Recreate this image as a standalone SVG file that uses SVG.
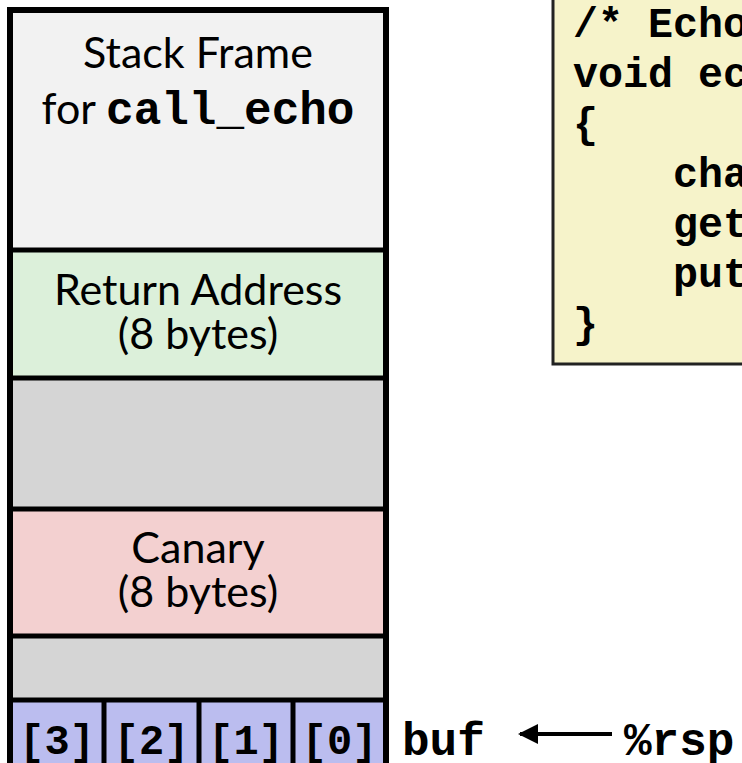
<svg xmlns="http://www.w3.org/2000/svg" width="742" height="763" viewBox="0 0 742 763">
<defs>
<style>
.sans{font-family:Lato,"Liberation Sans",sans-serif;font-size:43px;fill:#000;}
.mono{font-family:"Liberation Mono","Courier New",monospace;font-weight:bold;fill:#000;}
.lbl{font-size:46px;}
.cell{font-size:42px;}
.code{font-size:41.7px;}
.div{stroke:#000;stroke-width:5;}
</style>
<marker id="ah" markerWidth="5" markerHeight="5" refX="4.5" refY="2.5" orient="auto" markerUnits="strokeWidth">
<path d="M0,0 L5,2.5 L0,5 Z" fill="#000"/>
</marker>
</defs>
<rect width="742" height="763" fill="#fff"/>

<g id="code">
<rect x="553" y="-10" width="220" height="374" fill="#F6F3CA" stroke="#222" stroke-width="3"/>
<text class="mono code" x="573" y="37" xml:space="preserve">/* Echo Line */</text>
<text class="mono code" x="573" y="87" xml:space="preserve">void echo()</text>
<text class="mono code" x="573" y="137" xml:space="preserve">{</text>
<text class="mono code" x="573" y="187" xml:space="preserve">    char buf[4];</text>
<text class="mono code" x="573" y="237" xml:space="preserve">    gets(buf);</text>
<text class="mono code" x="573" y="287" xml:space="preserve">    puts(buf);</text>
<text class="mono code" x="573" y="337" xml:space="preserve">}</text>
</g>

<g id="stack-frame">
<rect x="10" y="10" width="376" height="240" fill="#F2F2F2"/>
<text class="sans" x="198" y="68" text-anchor="middle">Stack Frame</text>
<text class="sans" x="198" y="124" text-anchor="middle">for <tspan class="mono lbl">call_echo</tspan></text>
</g>

<g id="return-address">
<rect x="10" y="250" width="376" height="128" fill="#DCF0DA"/>
<text class="sans" x="198" y="305" text-anchor="middle">Return Address</text>
<text class="sans" x="198" y="349" text-anchor="middle">(8 bytes)</text>
</g>

<g id="padding1">
<rect x="10" y="378" width="376" height="131" fill="#D5D5D5"/>
</g>

<g id="canary">
<rect x="10" y="509" width="376" height="127" fill="#F3D0D0"/>
<text class="sans" x="198" y="563" text-anchor="middle">Canary</text>
<text class="sans" x="198" y="607" text-anchor="middle">(8 bytes)</text>
</g>

<g id="padding2">
<rect x="10" y="636" width="376" height="64" fill="#D5D5D5"/>
</g>

<g id="buf3">
<rect x="10" y="700" width="94" height="70" fill="#BBBDEF"/>
<text class="mono cell" x="57" y="754" text-anchor="middle">[3]</text>
</g>
<g id="buf2">
<rect x="104" y="700" width="95" height="70" fill="#BBBDEF"/>
<text class="mono cell" x="151.5" y="754" text-anchor="middle">[2]</text>
</g>
<g id="buf1">
<rect x="199" y="700" width="94" height="70" fill="#BBBDEF"/>
<text class="mono cell" x="246" y="754" text-anchor="middle">[1]</text>
</g>
<g id="buf0">
<rect x="293" y="700" width="93" height="70" fill="#BBBDEF"/>
<text class="mono cell" x="339.5" y="754" text-anchor="middle">[0]</text>
</g>

<g id="frame-lines">
<line class="div" x1="10" y1="250" x2="386" y2="250"/>
<line class="div" x1="10" y1="378" x2="386" y2="378"/>
<line class="div" x1="10" y1="509" x2="386" y2="509"/>
<line class="div" x1="10" y1="636" x2="386" y2="636"/>
<line class="div" x1="10" y1="700" x2="386" y2="700"/>
<line class="div" x1="104" y1="700" x2="104" y2="770"/>
<line class="div" x1="199" y1="700" x2="199" y2="770"/>
<line class="div" x1="293" y1="700" x2="293" y2="770"/>
<rect x="10" y="10" width="376" height="770" fill="none" stroke="#000" stroke-width="6"/>
</g>

<g id="buf-label">
<text class="mono lbl" x="402" y="755">buf</text>
</g>
<g id="rsp-label">
<text class="mono lbl" x="624" y="755">%rsp</text>
</g>

<g id="connectors">
<line x1="612" y1="734" x2="520" y2="734" stroke="#000" stroke-width="4" marker-end="url(#ah)"/>
</g>
</svg>
